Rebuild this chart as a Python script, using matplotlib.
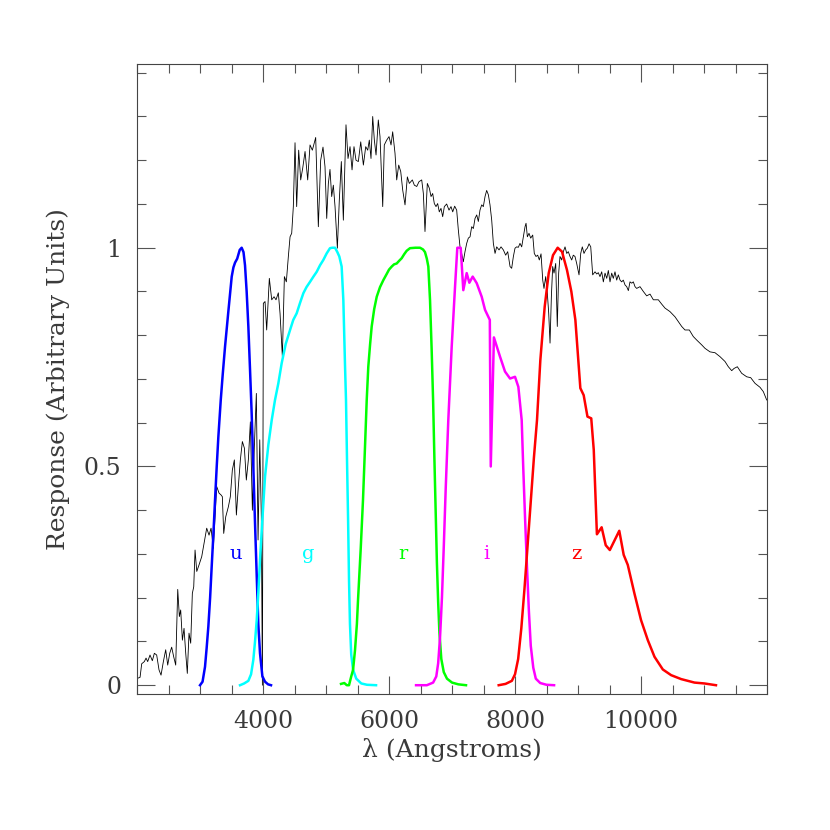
import matplotlib
matplotlib.use('Agg')
import matplotlib.pyplot as plt
from matplotlib.ticker import MultipleLocator

# galaxy spectrum
spec_wave = [2011, 2048, 2074, 2116, 2143, 2169, 2206, 2243, 2275, 2312, 2349, 2381, 2418, 2455,
             2487, 2519, 2550, 2582, 2614, 2646, 2672, 2693, 2720, 2746, 2773, 2798, 2825, 2852,
             2878, 2900, 2921, 2948, 2984, 3027, 3069, 3106, 3143, 3175, 3211, 3238, 3265, 3302,
             3333, 3354, 3376, 3408, 3450, 3481, 3513, 3545, 3577, 3608, 3640, 3672, 3704, 3735,
             3767, 3799, 3831, 3862, 3894, 3921, 3948, 3973, 3990, 4005, 4032, 4058, 4100, 4138,
             4175, 4206, 4243, 4270, 4307, 4339, 4370, 4402, 4429, 4455, 4481, 4508, 4534, 4566,
             4598, 4630, 4667, 4709, 4746, 4783, 4836, 4878, 4915, 4952, 4984, 5011, 5037, 5063,
             5090, 5116, 5143, 5180, 5211, 5243, 5275, 5317, 5349, 5381, 5413, 5444, 5476, 5513,
             5551, 5593, 5630, 5662, 5687, 5714, 5741, 5767, 5794, 5830, 5857, 5900, 5925, 5963,
             6000, 6032, 6058, 6095, 6122, 6154, 6186, 6217, 6254, 6291, 6322, 6370, 6402, 6440,
             6476, 6519, 6545, 6571, 6608, 6640, 6667, 6693, 6719, 6746, 6772, 6798, 6825, 6852,
             6878, 6915, 6952, 6984, 7011, 7042, 7074, 7100, 7127, 7153, 7179, 7206, 7233, 7259,
             7286, 7312, 7339, 7365, 7392, 7418, 7444, 7471, 7497, 7524, 7550, 7577, 7603, 7630,
             7656, 7683, 7709, 7746, 7778, 7815, 7852, 7884, 7921, 7947, 7974, 8000, 8026, 8053,
             8079, 8106, 8132, 8159, 8175, 8196, 8222, 8249, 8281, 8306, 8333, 8360, 8386, 8413,
             8440, 8460, 8487, 8513, 8535, 8556, 8577, 8598, 8619, 8646, 8671, 8693, 8714, 8741,
             8767, 8794, 8821, 8846, 8873, 8900, 8925, 8952, 8979, 9016, 9043, 9068, 9095, 9122,
             9148, 9175, 9202, 9233, 9270, 9297, 9322, 9349, 9376, 9402, 9429, 9456, 9481, 9508,
             9535, 9560, 9587, 9614, 9640, 9667, 9693, 9719, 9746, 9773, 9799, 9825, 9852, 9878,
             9905, 9931, 9984, 10037, 10090, 10143, 10196, 10275, 10329, 10381, 10460, 10540,
             10593, 10646, 10698, 10767, 10830, 10884, 10963, 11016, 11095, 11175, 11254, 11333,
             11386, 11440, 11476, 11529, 11598, 11678, 11741, 11810, 11889, 11942, 11995]
spec_flux = [0.016, 0.018, 0.049, 0.054, 0.062, 0.054, 0.069, 0.056, 0.073, 0.069, 0.035, 0.023,
             0.054, 0.081, 0.046, 0.073, 0.087, 0.065, 0.046, 0.219, 0.157, 0.172, 0.103, 0.130,
             0.073, 0.027, 0.119, 0.096, 0.210, 0.225, 0.309, 0.260, 0.275, 0.294, 0.328, 0.359,
             0.343, 0.359, 0.313, 0.385, 0.454, 0.439, 0.435, 0.431, 0.347, 0.385, 0.408, 0.431,
             0.492, 0.515, 0.389, 0.454, 0.515, 0.557, 0.542, 0.469, 0.515, 0.602, 0.400, 0.545,
             0.667, 0.332, 0.561, 0.385, 0.000, 0.873, 0.877, 0.812, 0.930, 0.881, 0.888, 0.881,
             0.897, 0.850, 0.751, 0.934, 0.922, 0.980, 1.025, 1.033, 1.094, 1.240, 1.094, 1.223,
             1.155, 1.182, 1.220, 1.155, 1.235, 1.223, 1.252, 1.048, 1.200, 1.230, 1.185, 1.067,
             1.147, 1.179, 1.117, 1.143, 1.094, 0.999, 1.109, 1.197, 1.063, 1.281, 1.204, 1.231,
             1.178, 1.231, 1.200, 1.197, 1.242, 1.189, 1.231, 1.223, 1.246, 1.204, 1.300, 1.246,
             1.212, 1.292, 1.254, 1.094, 1.235, 1.246, 1.254, 1.235, 1.265, 1.216, 1.155, 1.189,
             1.174, 1.132, 1.098, 1.162, 1.147, 1.155, 1.143, 1.140, 1.151, 1.155, 1.124, 1.037,
             1.147, 1.136, 1.117, 1.124, 1.101, 1.094, 1.101, 1.082, 1.090, 1.071, 1.094, 1.100,
             1.086, 1.094, 1.082, 1.095, 1.086, 1.041, 1.002, 0.987, 0.968, 0.991, 1.010, 1.022,
             1.025, 1.048, 1.044, 1.067, 1.075, 1.060, 1.086, 1.098, 1.094, 1.117, 1.131, 1.121,
             1.098, 1.063, 1.010, 0.987, 1.002, 0.995, 1.002, 0.995, 0.983, 0.991, 0.957, 0.953,
             0.980, 0.999, 1.002, 1.001, 1.010, 1.002, 1.025, 1.048, 1.056, 1.025, 1.033, 1.022,
             1.029, 0.987, 0.980, 0.983, 0.972, 0.986, 0.926, 0.907, 0.934, 0.896, 0.850, 0.782,
             0.888, 0.957, 0.942, 0.964, 0.820, 0.942, 0.980, 0.972, 0.991, 1.002, 0.987, 0.991,
             0.980, 0.972, 0.983, 0.980, 0.964, 0.938, 0.987, 1.002, 0.987, 0.995, 0.999, 1.009,
             1.002, 0.938, 0.945, 0.940, 0.943, 0.934, 0.945, 0.922, 0.942, 0.930, 0.948, 0.922,
             0.942, 0.930, 0.945, 0.926, 0.938, 0.926, 0.922, 0.926, 0.915, 0.911, 0.902, 0.922,
             0.919, 0.922, 0.911, 0.907, 0.911, 0.900, 0.890, 0.894, 0.881, 0.881, 0.871, 0.862,
             0.854, 0.842, 0.831, 0.820, 0.812, 0.812, 0.797, 0.789, 0.778, 0.770, 0.762, 0.760,
             0.751, 0.740, 0.728, 0.719, 0.724, 0.728, 0.713, 0.705, 0.703, 0.690, 0.681, 0.671,
             0.652]

# filter response curves
u_wave = [3000, 3040, 3079, 3105, 3132, 3160, 3185, 3212, 3238, 3265, 3291, 3329, 3360, 3397,
          3450, 3503, 3530, 3556, 3590, 3630, 3661, 3690, 3714, 3740, 3767, 3794, 3820, 3846,
          3873, 3900, 3925, 3952, 3990, 4032, 4080, 4127]
u_resp = [0.0, 0.008, 0.042, 0.085, 0.134, 0.2, 0.271, 0.345, 0.423, 0.5, 0.568, 0.652, 0.71,
          0.774, 0.855, 0.934, 0.955, 0.966, 0.975, 0.995, 1.0, 0.99, 0.96, 0.90, 0.82, 0.72,
          0.62, 0.50, 0.37, 0.25, 0.14, 0.073, 0.02, 0.008, 0.002, 0.0]

g_wave = [3635, 3700, 3767, 3810, 3846, 3873, 3900, 3925, 3952, 3990, 4032, 4085, 4138, 4190,
          4243, 4296, 4360, 4429, 4480, 4534, 4590, 4640, 4690, 4746, 4800, 4852, 4905, 4957,
          5010, 5063, 5100, 5143, 5180, 5211, 5248, 5275, 5302, 5317, 5335, 5350, 5365, 5380,
          5400, 5430, 5480, 5560, 5650, 5794]
g_resp = [0.0, 0.004, 0.01, 0.025, 0.058, 0.10, 0.149, 0.21, 0.286, 0.38, 0.477, 0.55, 0.606,
          0.652, 0.69, 0.736, 0.78, 0.812, 0.835, 0.85, 0.875, 0.896, 0.91, 0.922, 0.934, 0.945,
          0.96, 0.972, 0.987, 0.999, 1.0, 1.0, 0.99, 0.98, 0.957, 0.88, 0.728, 0.652, 0.5, 0.38,
          0.24, 0.14, 0.07, 0.035, 0.015, 0.004, 0.001, 0.0]

r_wave = [5238, 5290, 5330, 5365, 5400, 5429, 5460, 5490, 5508, 5550, 5587, 5620, 5646, 5671,
          5700, 5725, 5765, 5805, 5857, 5910, 5963, 6000, 6043, 6080, 6122, 6160, 6201, 6240,
          6280, 6333, 6420, 6492, 6540, 6571, 6600, 6624, 6651, 6677, 6700, 6720, 6740, 6760,
          6780, 6800, 6830, 6869, 6920, 7000, 7100, 7222]
r_resp = [0.003, 0.005, 0.0, 0.0, 0.02, 0.035, 0.08, 0.14, 0.195, 0.31, 0.424, 0.55, 0.652,
          0.728, 0.78, 0.82, 0.86, 0.888, 0.91, 0.926, 0.94, 0.95, 0.957, 0.962, 0.964, 0.97,
          0.976, 0.985, 0.993, 0.999, 1.0, 1.0, 0.996, 0.99, 0.975, 0.957, 0.88, 0.766, 0.65,
          0.52, 0.40, 0.28, 0.19, 0.12, 0.06, 0.03, 0.015, 0.006, 0.002, 0.0]

i_wave = [6429, 6600, 6700, 6750, 6780, 6810, 6840, 6870, 6900, 6941, 6995, 7048, 7084, 7138,
          7179, 7233, 7275, 7328, 7392, 7471, 7524, 7600, 7615, 7665, 7762, 7841, 7921, 8000,
          8053, 8106, 8130, 8160, 8190, 8220, 8250, 8290, 8330, 8400, 8500, 8620]
i_resp = [0.0, 0.0, 0.006, 0.02, 0.05, 0.11, 0.2, 0.32, 0.45, 0.606, 0.774, 0.911, 1.0, 1.0,
          0.903, 0.942, 0.92, 0.934, 0.919, 0.888, 0.858, 0.835, 0.5, 0.795, 0.751, 0.717,
          0.701, 0.705, 0.682, 0.606, 0.5, 0.38, 0.27, 0.17, 0.09, 0.04, 0.015, 0.005, 0.001,
          0.0]

z_wave = [7741, 7850, 7950, 8000, 8050, 8100, 8150, 8200, 8250, 8300, 8349, 8402, 8471, 8535,
          8603, 8677, 8746, 8825, 8894, 8958, 9037, 9090, 9150, 9210, 9250, 9300, 9375, 9440,
          9505, 9655, 9725, 9790, 9895, 10000, 10108, 10214, 10346, 10478, 10637, 10849, 11007,
          11190]
z_resp = [0.0, 0.003, 0.01, 0.025, 0.06, 0.13, 0.22, 0.32, 0.42, 0.52, 0.606, 0.743, 0.865,
          0.942, 0.983, 1.0, 0.991, 0.949, 0.9, 0.835, 0.679, 0.663, 0.614, 0.61, 0.538, 0.345,
          0.361, 0.32, 0.309, 0.353, 0.298, 0.275, 0.21, 0.149, 0.103, 0.065, 0.036, 0.023,
          0.014, 0.006, 0.004, 0.0]

band_names = ['u', 'g', 'r', 'i', 'z']
band_label_wave = [3565, 4720, 6215, 7550, 8968]
band_label_y = 0.288
band_colors = ['#0000ff', '#00ffff', '#00ff00', '#ff00ff', '#ff0000']

plt.rcParams['font.family'] = ['DejaVu Serif']
text_col = '#3a3a3a'

fig = plt.figure(figsize=(8.3, 8.3), dpi=100)
ax = fig.add_axes([0.1651, 0.1639, 0.759, 0.759])

ax.plot(spec_wave, spec_flux, color='black', lw=0.6)

curves = [(u_wave, u_resp), (g_wave, g_resp), (r_wave, r_resp), (i_wave, i_resp), (z_wave, z_resp)]
for (w, r), c in zip(curves, band_colors):
    ax.plot(w, r, color=c, lw=1.8, solid_joinstyle='round')

for name, lw_, c in zip(band_names, band_label_wave, band_colors):
    ax.text(lw_, band_label_y, name, color=c, fontsize=14, ha='center', va='baseline')

ax.set_xlim(2000, 12000)
ax.set_ylim(-0.02, 1.42)
ax.set_xticks([4000, 6000, 8000, 10000])
ax.xaxis.set_minor_locator(MultipleLocator(500))
ax.set_yticks([0, 0.5, 1])
ax.set_yticklabels(['0', '0.5', '1'])
ax.yaxis.set_minor_locator(MultipleLocator(0.1))
ax.tick_params(which='both', direction='in', top=True, right=True, color='#555555',
               width=0.8, labelsize=17, labelcolor=text_col, pad=11.5)
ax.tick_params(which='major', length=13)
ax.tick_params(which='minor', length=6.5)
for s in ax.spines.values():
    s.set_linewidth(0.8)
    s.set_color('#444444')

ax.set_xlabel('λ (Angstroms)', fontsize=18, color=text_col, labelpad=4)
ax.set_ylabel('Response (Arbitrary Units)', fontsize=18, color=text_col, labelpad=10)

fig.savefig('out.png', dpi=100)
